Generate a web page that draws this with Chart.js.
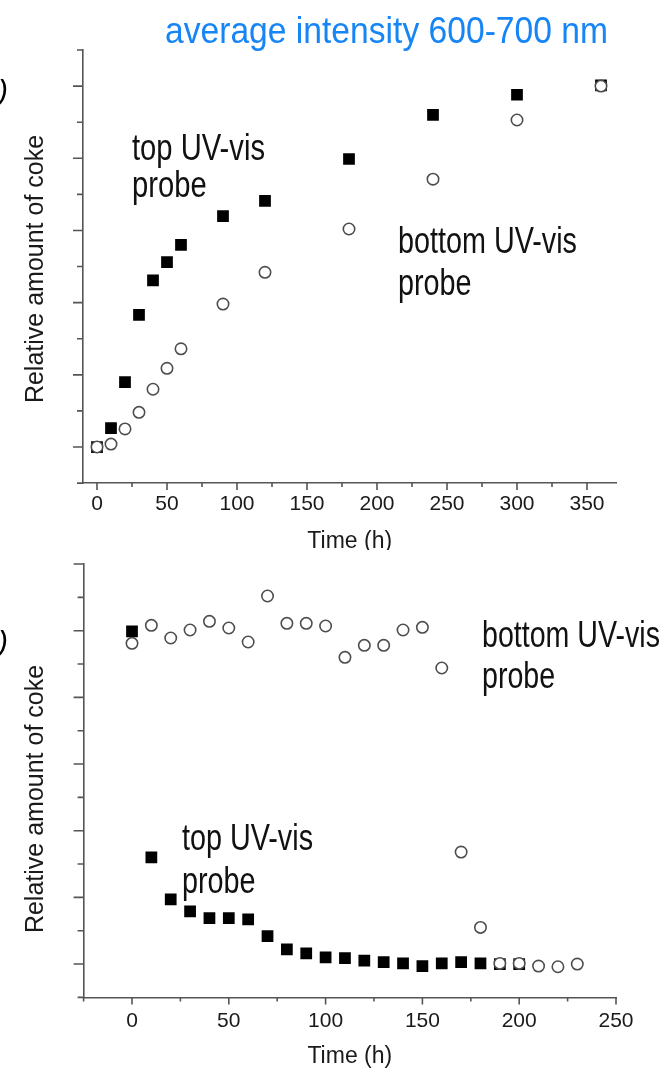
<!DOCTYPE html>
<html>
<head>
<meta charset="utf-8">
<script src="https://cdn.jsdelivr.net/npm/chart.js@4.4.1/dist/chart.umd.min.js"></script>
<style>
  html, body { margin: 0; padding: 0; background: #fff; }
  #wrap { position: relative; width: 667px; height: 1070px; overflow: hidden; }
  .panel { position: absolute; left: 0; width: 667px; }
  #topPanel { top: 0; height: 550px; }
  #bottomPanel { top: 550px; height: 520px; }
</style>
</head>
<body>
<div id="wrap">
  <div class="panel" id="topPanel"><canvas id="topChart"></canvas></div>
  <div class="panel" id="bottomPanel"><canvas id="bottomChart"></canvas></div>
</div>
<script>
// Panel a: average intensity 600-700 nm
const timesA = [0, 10, 20, 30, 40, 50, 60, 90, 120, 180, 240, 300, 360];
const topProbeA = [0, 0.26, 0.90, 1.83, 2.31, 2.56, 2.80, 3.20, 3.41, 3.99, 4.60, 4.88, 5.01];
const bottomProbeA = [0, 0.04, 0.25, 0.48, 0.80, 1.09, 1.36, 1.98, 2.42, 3.02, 3.71, 4.53, 5.0];
const xLabelsA = [0, 50, 100, 150, 200, 250, 300, 350];

// Panel b
const topTimesB = [0, 10, 20, 30, 40, 50, 60, 70, 80, 90, 100, 110, 120, 130, 140, 150, 160, 170, 180, 190, 200];
const topProbeB = [4.99, 1.60, 0.97, 0.79, 0.69, 0.69, 0.67, 0.42, 0.22, 0.16, 0.10, 0.09, 0.05, 0.03, 0.01, -0.03, 0.01, 0.03, 0.01, 0.0, 0.0];
const bottomTimesB = [0, 10, 20, 30, 40, 50, 60, 70, 80, 90, 100, 110, 120, 130, 140, 150, 160, 170, 180, 190, 200, 210, 220, 230];
const bottomProbeB = [4.81, 5.08, 4.89, 5.01, 5.14, 5.04, 4.83, 5.52, 5.11, 5.11, 5.07, 4.60, 4.78, 4.78, 5.01, 5.05, 4.44, 1.68, 0.55, 0.01, 0.01, -0.03, -0.04, 0.0];
const xLabelsB = [0, 50, 100, 150, 200, 250];

const AXIS = '#555';
const TEXT = '#1a1a1a';

function toPoints(xs, ys) {
  return xs.map((x, i) => ({ x: x, y: ys[i] }));
}

// draws text squeezed so the first line hits the wanted width
function fitLines(ctx, lines, x, baselines, width, size, color) {
  ctx.font = size + 'px "Liberation Sans Narrow", "Liberation Sans", Arial, sans-serif';
  ctx.fillStyle = color;
  ctx.textAlign = 'left';
  ctx.textBaseline = 'alphabetic';
  const sx = width / ctx.measureText(lines[0]).width;
  lines.forEach((t, i) => {
    ctx.save();
    ctx.translate(x, baselines[i]);
    ctx.scale(sx, 1);
    ctx.fillText(t, 0, 0);
    ctx.restore();
  });
}

// tick marks: long ones on the majors, short ones in between
const tickMarks = {
  id: 'tickMarks',
  afterDraw(chart, args, opts) {
    const ctx = chart.ctx;
    const xs = chart.scales.x, ys = chart.scales.y;
    ctx.save();
    ctx.strokeStyle = AXIS;
    ctx.lineWidth = 1.6;
    ctx.beginPath();
    xs.ticks.forEach(t => {
      const px = xs.getPixelForValue(t.value);
      const len = t.value % opts.xMajor === 0 ? 7 : 4;
      ctx.moveTo(px, xs.top);
      ctx.lineTo(px, xs.top + len);
    });
    ys.ticks.forEach(t => {
      const py = ys.getPixelForValue(t.value);
      const len = Number.isInteger(t.value) ? 10 : 6;
      ctx.moveTo(ys.right, py);
      ctx.lineTo(ys.right - len, py);
    });
    ctx.stroke();
    ctx.restore();
  }
};

// titles, probe notes and the cut panel letter
const panelText = {
  id: 'panelText',
  afterDraw(chart, args, o) {
    const ctx = chart.ctx;
    ctx.save();
    if (o.title) {
      fitLines(ctx, [o.title.text], o.title.x, [o.title.base], o.title.width, 36, '#1685f5');
    }
    o.notes.forEach(n => fitLines(ctx, n.lines, n.x, n.bases, n.width, 36, '#111'));

    ctx.fillStyle = TEXT;
    ctx.font = '25px "Liberation Sans", Arial, sans-serif';
    ctx.textAlign = 'center';
    ctx.textBaseline = 'alphabetic';
    ctx.save();
    ctx.translate(o.yTitle.x, o.yTitle.y);
    ctx.rotate(-Math.PI / 2);
    ctx.fillText('Relative amount of coke', 0, 0);
    ctx.restore();

    ctx.font = '23px "Liberation Sans", Arial, sans-serif';
    ctx.fillText('Time (h)', (chart.chartArea.left + chart.chartArea.right) / 2, o.xTitleBase);

    ctx.fillStyle = '#000';
    ctx.font = 'italic 30px "Liberation Sans", Arial, sans-serif';
    ctx.textAlign = 'right';
    ctx.fillText(o.letter.text, 8, o.letter.base);
    ctx.restore();
  }
};

function makeChart(id, c) {
  return new Chart(document.getElementById(id), {
    type: 'scatter',
    data: {
      datasets: [
        {
          label: 'bottom UV-vis probe',
          data: c.circles,
          pointStyle: 'circle',
          pointRadius: 5.7,
          pointHoverRadius: 5.7,
          pointBackgroundColor: '#fff',
          pointBorderColor: '#4d4d4d',
          pointBorderWidth: 1.6
        },
        {
          label: 'top UV-vis probe',
          data: c.squares,
          pointStyle: 'rect',
          pointRadius: 8.3,
          pointHoverRadius: 8.3,
          pointBackgroundColor: '#000',
          pointBorderColor: '#000',
          pointBorderWidth: 0
        }
      ]
    },
    options: {
      responsive: true,
      maintainAspectRatio: false,
      animation: false,
      events: [],
      layout: { padding: { top: c.padTop, right: c.padRight, left: 0, bottom: 0 } },
      plugins: {
        legend: { display: false },
        tooltip: { enabled: false },
        tickMarks: { xMajor: 50 },
        panelText: c.text
      },
      scales: {
        x: {
          type: 'linear',
          min: c.xMin,
          max: c.xMax,
          grid: { display: false, drawTicks: false },
          border: { display: true, color: AXIS, width: 1.6 },
          ticks: {
            stepSize: 25,
            includeBounds: false,
            autoSkip: false,
            maxRotation: 0,
            padding: c.labelPad,
            color: TEXT,
            font: { family: '"Liberation Sans", Arial, sans-serif', size: 21 },
            callback: v => (c.xLabels.includes(v) ? String(v) : '')
          },
          afterFit: s => { s.height = c.xAxisHeight; }
        },
        y: {
          type: 'linear',
          min: c.yMin,
          max: c.yMax,
          grid: { display: false, drawTicks: false },
          border: { display: true, color: AXIS, width: 1.6 },
          ticks: { stepSize: 0.5, display: false },
          afterFit: s => { s.width = c.yAxisWidth; }
        }
      }
    },
    plugins: [tickMarks, panelText]
  });
}

makeChart('topChart', {
  circles: toPoints(timesA, bottomProbeA),
  squares: toPoints(timesA, topProbeA),
  xMin: -10, xMax: 371, yMin: -0.5, yMax: 5.5,
  xLabels: xLabelsA,
  padTop: 50, padRight: 50.6, xAxisHeight: 66.9, yAxisWidth: 83, labelPad: 9,
  text: {
    title: { text: 'average intensity 600-700 nm', x: 165, base: 43, width: 443 },
    notes: [
      { lines: ['top UV-vis', 'probe'], x: 132, bases: [160, 197], width: 133 },
      { lines: ['bottom UV-vis', 'probe'], x: 398, bases: [253, 295], width: 179 }
    ],
    yTitle: { x: 43, y: 269 },
    xTitleBase: 548,
    letter: { text: 'a)', base: 101 }
  }
});

makeChart('bottomChart', {
  circles: toPoints(bottomTimesB, bottomProbeB),
  squares: toPoints(topTimesB, topProbeB),
  xMin: -25, xMax: 250, yMin: -0.5, yMax: 6,
  xLabels: xLabelsB,
  padTop: 14, padRight: 51, xAxisHeight: 72.6, yAxisWidth: 83.6, labelPad: 11,
  text: {
    title: null,
    notes: [
      { lines: ['bottom UV-vis', 'probe'], x: 482, bases: [97, 138], width: 178 },
      { lines: ['top UV-vis', 'probe'], x: 182, bases: [300, 343], width: 131 }
    ],
    yTitle: { x: 43, y: 249 },
    xTitleBase: 513,
    letter: { text: 'b)', base: 102 }
  }
});
</script>
</body>
</html>
